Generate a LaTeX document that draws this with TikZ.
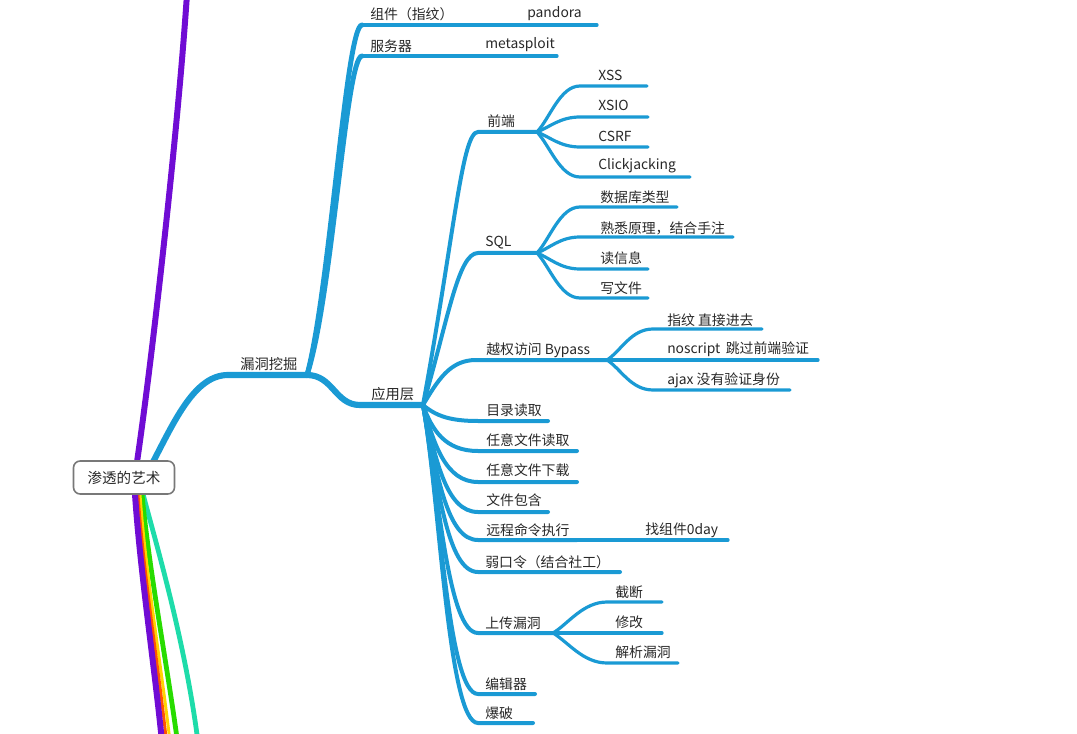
\documentclass[tikz,border=0pt]{standalone}
\usepackage{fontspec}
\setmainfont{Noto Sans CJK SC}
\definecolor{bl}{RGB}{26,154,212}
\definecolor{tcol}{RGB}{40,40,40}
\definecolor{pu}{RGB}{112,12,212}
\definecolor{rd}{RGB}{255,84,0}
\definecolor{ye}{RGB}{255,212,0}
\definecolor{gr}{RGB}{40,220,0}
\definecolor{te}{RGB}{30,220,170}
\definecolor{bx}{RGB}{120,120,120}
\begin{document}
\begin{tikzpicture}[x=0.75pt,y=-0.75pt,
  txt/.style={anchor=west,inner sep=0pt,text=tcol,font=\fontsize{10.4}{12}\selectfont},
  big/.style={txt,font=\fontsize{10.7}{12}\selectfont},
  rootbox/.style={draw=bx,line width=1.2pt,rounded corners=5pt,fill=white,text=tcol,
    minimum width=101*0.75pt,minimum height=33*0.75pt,inner sep=0pt,font=\fontsize{10.9}{12}\selectfont},
  lone/.style={draw=bl,line width=4.6pt,line cap=round},
  ltwo/.style={draw=bl,line width=3.7pt,line cap=round},
  lthree/.style={draw=bl,line width=3pt,line cap=round},
  lfour/.style={draw=bl,line width=2.4pt,line cap=round},
  side/.style={line width=#1,line cap=round}]
\useasboundingbox (0,0) rectangle (1077,734);

% ---------- coordinates ----------
\coordinate (rt0) at (137,462);
\coordinate (rt1) at (153,462);
\coordinate (putop) at (187,-6);
\coordinate (pb0) at (135,494);  \coordinate (pb1) at (162,742);
\coordinate (rb0) at (138,494);  \coordinate (rb1) at (166.5,742);
\coordinate (yb0) at (140,494);  \coordinate (yb1) at (170,742);
\coordinate (gb0) at (142,494);  \coordinate (gb1) at (177.5,742);
\coordinate (tb0) at (143,494);  \coordinate (tb1) at (198,742);

\coordinate (ld-s) at (228,375); \coordinate (ld-e) at (307,375);
\coordinate (zj-s) at (362,25);  \coordinate (zj-e) at (457,25);
\coordinate (pd-e) at (597,25);
\coordinate (fw-s) at (362,56);  \coordinate (fw-e) at (420,56);
\coordinate (ms-e) at (557,56);
\coordinate (yy-s) at (360,405); \coordinate (yy-e) at (423,405);

\coordinate (qd-s) at (478,132); \coordinate (qd-e) at (537,132);
\coordinate (xss-s) at (580,86);  \coordinate (xss-e) at (647,86);
\coordinate (xsio-s) at (580,117); \coordinate (xsio-e) at (648,117);
\coordinate (csrf-s) at (580,147); \coordinate (csrf-e) at (648,147);
\coordinate (cj-s) at (580,177);  \coordinate (cj-e) at (690,177);

\coordinate (sql-s) at (478,253); \coordinate (sql-e) at (537,253);
\coordinate (sj-s) at (580,207);  \coordinate (sj-e) at (677,207);
\coordinate (sx-s) at (580,237);  \coordinate (sx-e) at (733,237);
\coordinate (dx-s) at (580,269);  \coordinate (dx-e) at (648,269);
\coordinate (xw-s) at (580,298);  \coordinate (xw-e) at (648,298);

\coordinate (yq-s) at (476,360);  \coordinate (yq-e) at (607,360);
\coordinate (zw-s) at (653,329);  \coordinate (zw-e) at (762,329);
\coordinate (ns-s) at (620,360);  \coordinate (ns-e) at (818,360);
\coordinate (aj-s) at (653,390);  \coordinate (aj-e) at (790,390);

\coordinate (ml-s) at (478,421);  \coordinate (ml-e) at (548,421);
\coordinate (rd-s) at (478,451);  \coordinate (rd-e) at (577,451);
\coordinate (rx-s) at (478,482);  \coordinate (rx-e) at (577,482);
\coordinate (bh-s) at (478,512);  \coordinate (bh-e) at (548,512);
\coordinate (yc-s) at (478,540);  \coordinate (yc-e) at (577,540);
\coordinate (od-e) at (728,540);
\coordinate (rk-s) at (478,572);  \coordinate (rk-e) at (620,572);
\coordinate (sc-s) at (478,633);  \coordinate (sc-e) at (553,633);
\coordinate (jd-s) at (607,602);  \coordinate (jd-e) at (662,602);
\coordinate (xg-s) at (607,633);  \coordinate (xg-e) at (662,633);
\coordinate (jx-s) at (607,663);  \coordinate (jx-e) at (678,663);
\coordinate (bj-s) at (478,694);  \coordinate (bj-e) at (535,694);
\coordinate (bp-s) at (478,723);  \coordinate (bp-e) at (533,723);

% ---------- side branches ----------
\draw[side=3.6pt,draw=te] (tb0) .. controls (155,540) and (185,640) .. (tb1);
\draw[side=3.6pt,draw=gr] (gb0) .. controls (149,570) and (168,670) .. (gb1);
\draw[side=2.2pt,draw=ye] (yb0) .. controls (145,570) and (162,670) .. (yb1);
\draw[side=2.2pt,draw=rd] (rb0) .. controls (143,570) and (159,670) .. (rb1);
\draw[side=4.5pt,draw=pu] (pb0) .. controls (140,570) and (155,670) .. (pb1);
\draw[side=4.5pt,draw=pu] (rt0) .. controls (152,360) and (178,130) .. (putop);

% ---------- main blue branch ----------
\draw[lone] (rt1) .. controls (175,420) and (195,375) .. (ld-s) -- (ld-e);
\draw[ltwo] (ld-e) .. controls (330,290) and (346,25) .. (zj-s);
\draw[ltwo] (ld-e) .. controls (332,300) and (346,56) .. (fw-s);
\draw[lthree] (zj-s) -- (zj-e);
\draw[lfour] (zj-e) -- (pd-e);
\draw[lthree] (fw-s) -- (fw-e);
\draw[lfour] (fw-e) -- (ms-e);
\draw[lone] (ld-e) .. controls (333,375) and (335,405) .. (yy-s) -- (yy-e);

% level 3 from 应用层
\draw[lthree] (yy-e) .. controls (455,230) and (462,132) .. (qd-s) -- (qd-e);
\draw[lthree] (yy-e) .. controls (448,320) and (458,253) .. (sql-s) -- (sql-e);
\draw[lthree] (yy-e) .. controls (438,380) and (450,360) .. (yq-s) -- (yq-e);
\draw[lthree] (yy-e) .. controls (436,416) and (450,421) .. (ml-s) -- (ml-e);
\draw[lthree] (yy-e) .. controls (432,430) and (445,451) .. (rd-s) -- (rd-e);
\draw[lthree] (yy-e) .. controls (434,445) and (446,482) .. (rx-s) -- (rx-e);
\draw[lthree] (yy-e) .. controls (436,460) and (446,512) .. (bh-s) -- (bh-e);
\draw[lthree] (yy-e) .. controls (437,475) and (447,540) .. (yc-s) -- (yc-e);
\draw[lthree] (yy-e) .. controls (438,485) and (447,572) .. (rk-s) -- (rk-e);
\draw[lthree] (yy-e) .. controls (439,495) and (448,633) .. (sc-s) -- (sc-e);
\draw[lthree] (yy-e) .. controls (440,500) and (448,694) .. (bj-s) -- (bj-e);
\draw[lthree] (yy-e) .. controls (440,500) and (448,723) .. (bp-s) -- (bp-e);

% level 4 fans
\draw[lfour] (qd-e) .. controls +(13,-14) and +(-20,0) .. (xss-s) -- (xss-e);
\draw[lfour] (qd-e) .. controls +(13,-5) and +(-20,0) .. (xsio-s) -- (xsio-e);
\draw[lfour] (qd-e) .. controls +(13,5) and +(-20,0) .. (csrf-s) -- (csrf-e);
\draw[lfour] (qd-e) .. controls +(13,14) and +(-20,0) .. (cj-s) -- (cj-e);

\draw[lfour] (sql-e) .. controls +(13,-14) and +(-20,0) .. (sj-s) -- (sj-e);
\draw[lfour] (sql-e) .. controls +(13,-5) and +(-20,0) .. (sx-s) -- (sx-e);
\draw[lfour] (sql-e) .. controls +(13,5) and +(-20,0) .. (dx-s) -- (dx-e);
\draw[lfour] (sql-e) .. controls +(13,14) and +(-20,0) .. (xw-s) -- (xw-e);

\draw[lfour] (yq-e) .. controls +(14,-9) and +(-22,0) .. (zw-s) -- (zw-e);
\draw[lfour] (yq-e) -- (ns-s) -- (ns-e);
\draw[lfour] (yq-e) .. controls +(14,9) and +(-22,0) .. (aj-s) -- (aj-e);

\draw[lfour] (yc-e) -- (od-e);

\draw[lfour] (sc-e) .. controls +(15,-9) and +(-24,0) .. (jd-s) -- (jd-e);
\draw[lfour] (sc-e) -- (xg-s) -- (xg-e);
\draw[lfour] (sc-e) .. controls +(15,9) and +(-24,0) .. (jx-s) -- (jx-e);

% ---------- root ----------
\node[rootbox] (root) at (124,477.5) {渗透的艺术};

% ---------- labels ----------
\node[big] (t-ld) at (240,364) {漏洞挖掘};
\node[txt] (t-zj) at (370,14) {组件（指纹）};
\node[txt] (t-pd) at (527,14) {pandora};
\node[txt] (t-fw) at (370,46) {服务器};
\node[txt] (t-ms) at (485,45) {metasploit};
\node[big] (t-yy) at (371,394) {应用层};

\node[txt] (t-qd) at (487,121) {前端};
\node[txt] (t-xss) at (598,75) {XSS};
\node[txt] (t-xsio) at (598,105) {XSIO};
\node[txt] (t-csrf) at (598,136) {CSRF};
\node[txt] (t-cj) at (598,166) {Clickjacking};

\node[txt] (t-sql) at (485,243) {SQL};
\node[txt] (t-sj) at (600,197) {数据库类型};
\node[txt] (t-sx) at (600,228) {熟悉原理，结合手注};
\node[txt] (t-dx) at (600,258) {读信息};
\node[txt] (t-xw) at (600,288) {写文件};

\node[txt] (t-yq) at (486,350) {越权访问 Bypass};
\node[txt] (t-zw) at (667,320) {指纹 直接进去};
\node[txt] (t-ns) at (667,349) {noscript\, 跳过前端验证};
\node[txt] (t-aj) at (667,380) {ajax 没有验证身份};

\node[txt] (t-ml) at (486,410) {目录读取};
\node[txt] (t-rd) at (486,440) {任意文件读取};
\node[txt] (t-rx) at (486,470) {任意文件下载};
\node[txt] (t-bh) at (486,500) {文件包含};
\node[txt] (t-yc) at (486,530) {远程命令执行};
\node[txt] (t-od) at (645,530) {找组件0day};
\node[txt] (t-rk) at (485,562) {弱口令（结合社工）};
\node[txt] (t-sc) at (485,623) {上传漏洞};
\node[txt] (t-jd) at (615,592) {截断};
\node[txt] (t-xg) at (615,622) {修改};
\node[txt] (t-jx) at (615,652) {解析漏洞};
\node[txt] (t-bj) at (485,684) {编辑器};
\node[txt] (t-bp) at (485,713) {爆破};
\end{tikzpicture}
\end{document}
